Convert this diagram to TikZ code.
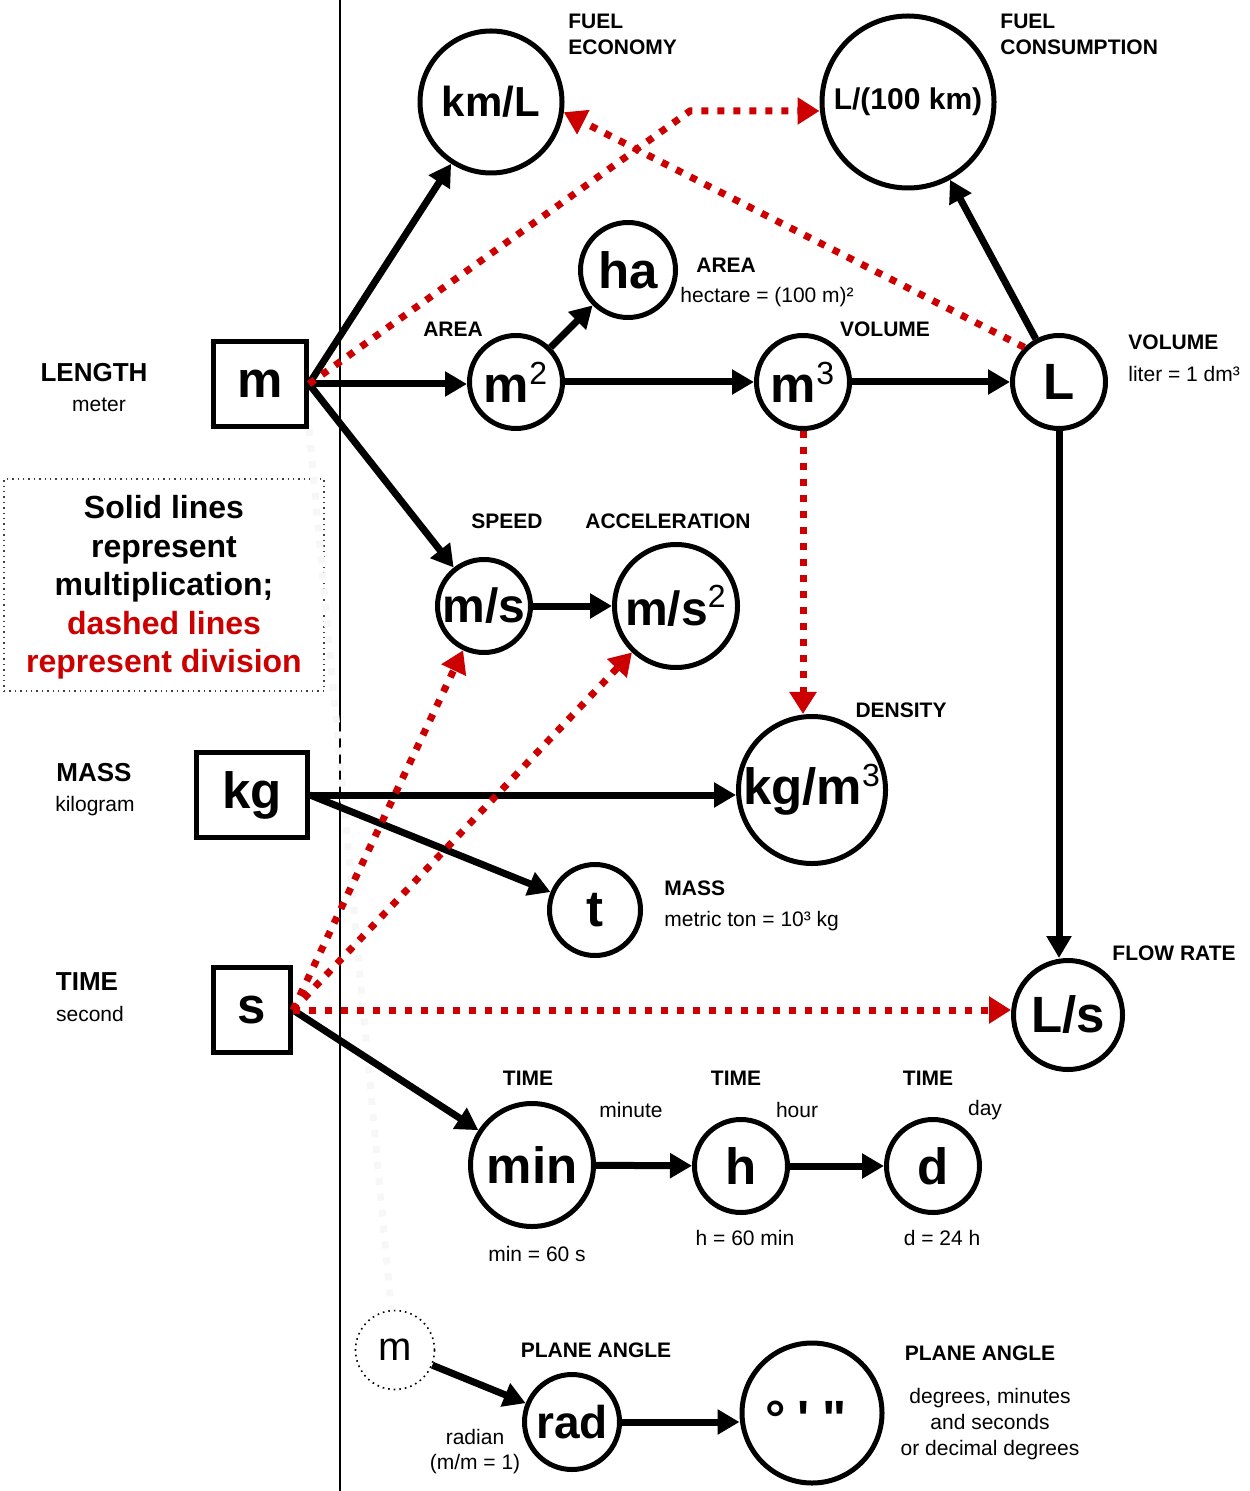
\documentclass[tikz,border=0pt]{standalone}
\usepackage{fontspec}
\setmainfont{Liberation Sans}
\usepackage{tikz}
\usetikzlibrary{ arrows.meta  % For the filled triangle tips
               }
\definecolor{divred}{HTML}{CC0000}
\tikzstyle{unit} = [circle, draw=black, line width=2.5pt, inner sep=0pt, text centered,
                    font=\fontsize{25.5}{28}\selectfont\bfseries]
\tikzstyle{base} = [rectangle, draw=black, line width=2.5pt, inner sep=0pt, minimum height=42.5pt,
                    font=\fontsize{25.5}{28}\selectfont\bfseries]
\tikzstyle{mult} = [-{Triangle[length=11pt,width=12pt]}, line width=3.5pt]
\tikzstyle{divi} = [-{Triangle[length=11pt,width=13pt]}, line width=3.5pt, draw=divred,
                    dash pattern=on 3.5pt off 4.5pt]
\tikzstyle{tag} = [inner sep=0pt, font=\fontsize{10.5}{13}\selectfont\bfseries]
\tikzstyle{note} = [inner sep=0pt, font=\fontsize{10.5}{13}\selectfont]
\tikzstyle{quantity} = [inner sep=0pt, font=\fontsize{13}{15}\selectfont\bfseries]
\newcommand{\pw}[1]{\textsuperscript{\mdseries\fontsize{16}{16}\selectfont #1}}

\begin{document}
\begin{tikzpicture}[x=0.5pt, y=-0.5pt]
  \useasboundingbox (0,0) rectangle (1249,1491);
  \draw [line width=1pt] (340,0) -- (340,1491);

  % base units
  \node (meter) [base, minimum width=46.5pt] at (260,384) {m};
  \node (kilo) [base, minimum width=55.5pt] at (252,795) {kg};
  \node (sec) [base, minimum width=38.5pt] at (252,1010) {s};
  \node (lenq) [quantity] at (94,373) {LENGTH};
  \node (lenn) [note] at (99,405) {meter};
  \node (massq) [quantity] at (94,773) {MASS};
  \node (massn) [note] at (95,806) {kilogram};
  \node (timeq) [quantity] at (87,982) {TIME};
  \node (timen) [note] at (90,1014) {second};

  \node (legend) [draw=black!75, dotted, line width=0.7pt, minimum width=160pt, minimum height=106pt,
                  align=center, font=\fontsize{16}{19.25}\selectfont\bfseries] at (164,585)
    {\rule{0pt}{14pt}Solid lines\\represent\\multiplication;\\\textcolor{divred}{dashed lines}\\\textcolor{divred}{represent division}};

  % derived units
  \node (kmL) [unit, minimum size=71pt, font=\fontsize{21}{24}\selectfont\bfseries] at (491,102) {km/L};
  \node (lpk) [unit, minimum size=86pt, font=\fontsize{15}{18}\selectfont\bfseries] at (908,102) {L/(100 km)};
  \node (ha) [unit, minimum size=47.5pt] at (628,270) {ha};
  \node (msq) [unit, minimum size=46.5pt] at (516,382) {m\pw{2}};
  \node (mcub) [unit, minimum size=46.5pt] at (803,382) {m\pw{3}};
  \node (lit) [unit, minimum size=46.5pt] at (1059,382) {L};
  \node (mps) [unit, minimum size=46.5pt, font=\fontsize{24}{26}\selectfont\bfseries] at (484,606) {m/s};
  \node (mpss) [unit, minimum size=61.5pt, font=\fontsize{24}{26}\selectfont\bfseries] at (676,606) {m/s\pw{2}};
  \node (dens) [unit, minimum size=69.5pt] at (812,790) {kg/m\pw{3}};
  \node (ton) [unit, minimum size=45.5pt] at (595,910) {t};
  \node (lps) [unit, minimum size=54.5pt] at (1068,1015) {L/s};
  \node (minute) [unit, minimum size=61.5pt] at (532,1165) {min};
  \node (hour) [unit, minimum size=46.5pt] at (741,1166) {h};
  \node (day) [unit, minimum size=46.5pt] at (933,1166) {d};
  \node (msmall) [unit, minimum size=39.5pt, line width=0.8pt, dotted, font=\fontsize{20}{22}\selectfont] at (395,1350) {m};
  \node (rad) [unit, minimum size=47.5pt, font=\fontsize{23}{25}\selectfont\bfseries] at (572,1422) {rad};
  \node (dms) [unit, minimum size=70pt] at (812,1413) {};
  \node (dmsg) [inner sep=0pt, font=\fontsize{25.5}{28}\selectfont\bfseries] at (806,1419)
    {°\hspace{6pt}\textquotesingle\hspace{6.5pt}\textquotedbl};

  % labels
  \node (fe) [tag, anchor=west, align=left] at (568,34) {FUEL\\ECONOMY};
  \node (fc) [tag, anchor=west, align=left] at (1000,34) {FUEL\\CONSUMPTION};
  \node (haq) [tag, anchor=west] at (696,265) {AREA};
  \node (han) [note, anchor=west] at (680,297) {hectare = (100 m)²};
  \node (msqq) [tag] at (453,329) {AREA};
  \node (mcubq) [tag] at (885,329) {VOLUME};
  \node (litq) [tag, anchor=west] at (1128,342) {VOLUME};
  \node (litn) [note, anchor=west] at (1128,374) {liter = 1 dm³};
  \node (mpsq) [tag] at (507,521) {SPEED};
  \node (mpssq) [tag] at (668,521) {ACCELERATION};
  \node (densq) [tag] at (901,710) {DENSITY};
  \node (tonq) [tag, anchor=west] at (664,888) {MASS};
  \node (tonn) [note, anchor=west] at (664,921) {metric ton = 10³ kg};
  \node (lpsq) [tag, anchor=west] at (1112,953) {FLOW RATE};
  \node (minq) [tag] at (528,1078) {TIME};
  \node (minn) [note] at (631,1110) {minute};
  \node (hourq) [tag] at (736,1078) {TIME};
  \node (hourn) [note] at (797,1110) {hour};
  \node (dayq) [tag] at (928,1078) {TIME};
  \node (dayn) [note] at (985,1110) {day};
  \node (mine) [note] at (537,1254) {min = 60 s};
  \node (houre) [note] at (745,1238) {h = 60 min};
  \node (daye) [note] at (942,1238) {d = 24 h};
  \node (radq) [tag] at (596,1350) {PLANE ANGLE};
  \node (radn) [note, align=center, font=\fontsize{10.5}{12.5}\selectfont] at (475,1452) {radian\\(m/m = 1)};
  \node (dmsq) [tag] at (980,1353) {PLANE ANGLE};
  \node (dmsn) [note, align=center] at (990,1424) {degrees, minutes\\and seconds\\or decimal degrees};

  % faint guide
  \draw [line width=3.5pt, draw=black!3, dash pattern=on 3.5pt off 4.5pt] (meter.south east) -- (msmall);

  % multiplication
  \draw [mult] (meter.east) -- (kmL);
  \draw [mult] (meter.east) -- (meter.east -| msq.west);
  \draw [mult] (meter.east) -- (mps);
  \draw [mult] (msq) -- (ha);
  \draw [mult] (msq) -- (mcub);
  \draw [mult] (mcub) -- (lit);
  \draw [mult] (lit) -- (lpk);
  \draw [mult] (lit) -- (lit |- lps.north);
  \draw [mult] (mps) -- (mpss);
  \draw [mult] (kilo.east) -- (kilo.east -| dens.west);
  \draw [mult] (kilo.east) -- (ton);
  \draw [mult] (sec.east) -- (minute);
  \draw [mult] (minute) -- (hour);
  \draw [mult] (hour) -- (day);
  \draw [mult] (msmall) -- (rad);
  \draw [mult] (rad.east) -- (rad.east -| dms.west);

  % division
  \coordinate (kink) at (690,111);
  \draw [divi] (meter.east) -- (kink) -- (kink -| lpk.west);
  \draw [divi] (lit.135) -- (kmL.-8);
  \draw [divi] (mcub) -- (mcub |- dens.north);
  \draw [divi] (sec.east) -- (mps);
  \draw [divi] (sec.east) -- (mpss);
  \draw [divi] (sec.east) -- (sec.east -| lps.west);
\end{tikzpicture}
\end{document}
